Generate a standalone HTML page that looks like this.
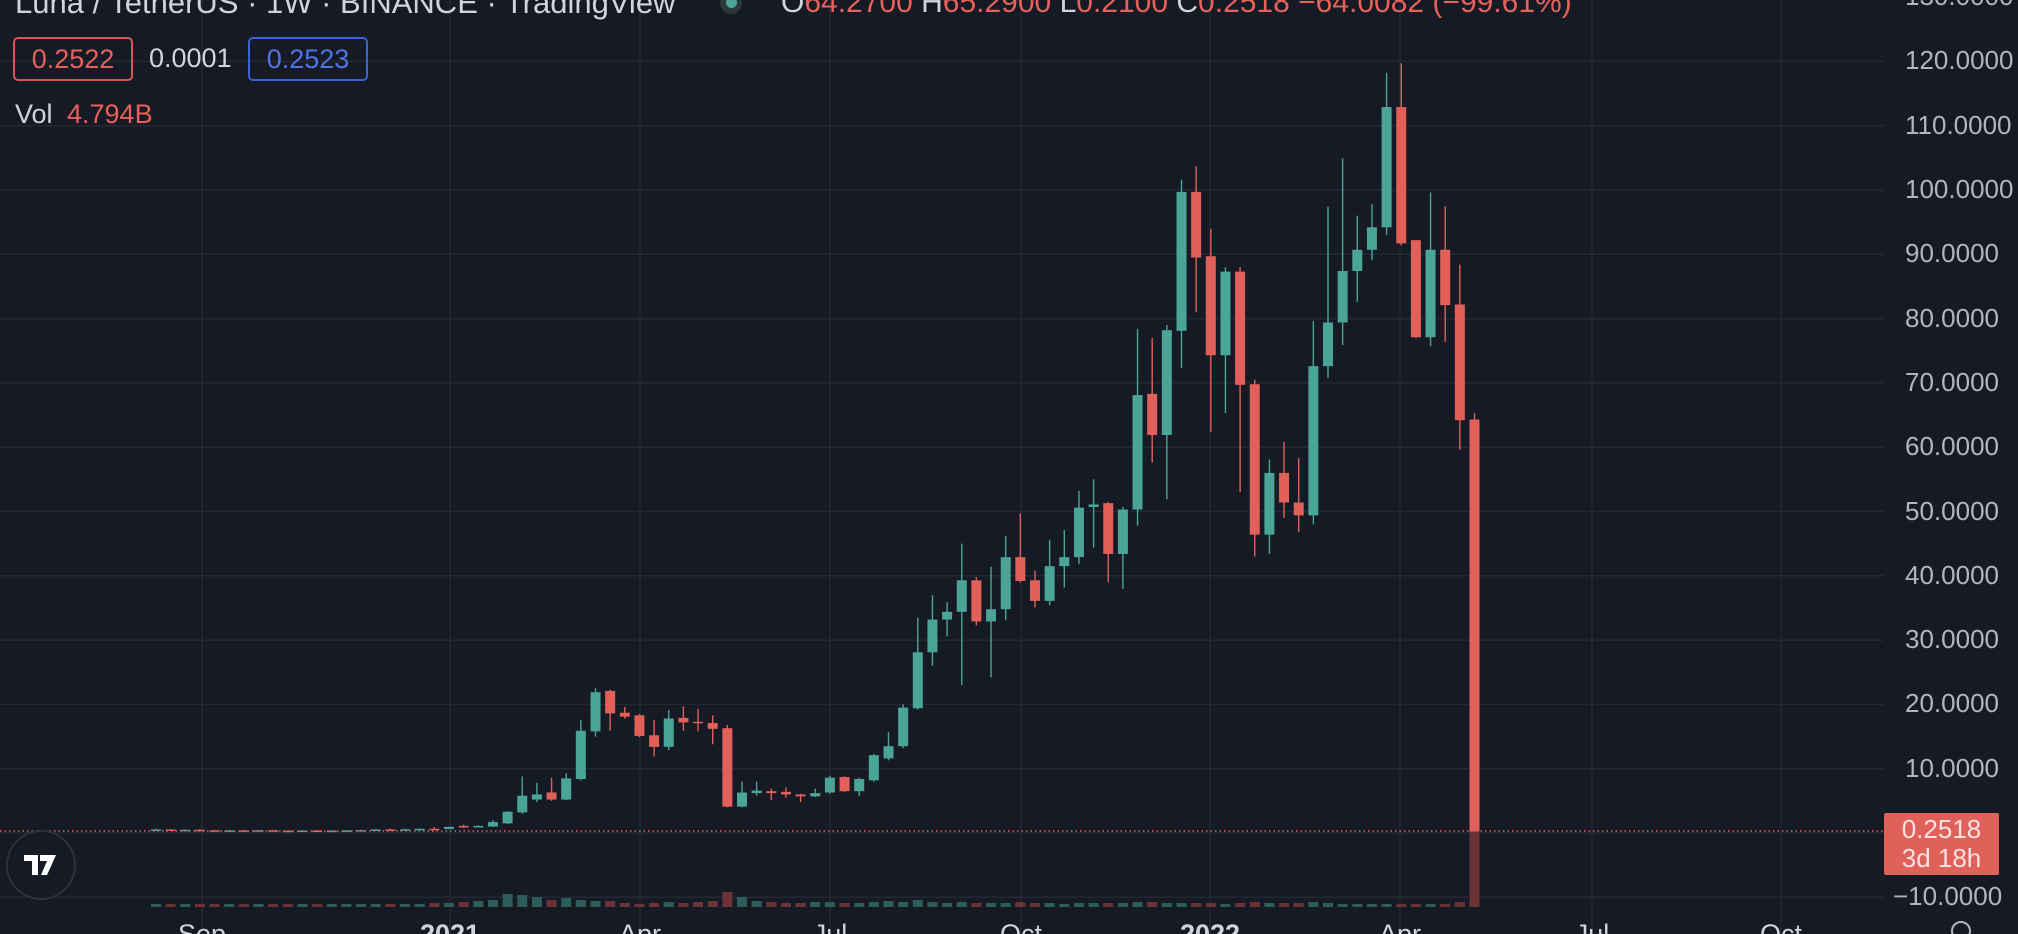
<!DOCTYPE html>
<html><head><meta charset="utf-8"><style>
html,body{margin:0;padding:0;background:#161a25;overflow:hidden}
#w{position:relative;width:2018px;height:934px;background:#161a25;font-family:"Liberation Sans",sans-serif}
svg{position:absolute;left:0;top:0}
.t{position:absolute;white-space:nowrap}
.b{position:absolute;top:919px;font-size:27px;color:#d1d4dc;transform:translateX(-50%);white-space:nowrap}
</style></head><body><div id="w">
<svg id="s" width="2018" height="934" xmlns="http://www.w3.org/2000/svg"></svg>
<div class="t" style="left:15px;top:-15px;font-size:31px;color:#d1d4dc">Luna / TetherUS · 1W · BINANCE · TradingView</div>
<div class="t" style="left:720px;top:-8px;width:22px;height:22px;border-radius:50%;background:#2a3a3a"></div>
<div class="t" style="left:726px;top:-3px;width:11px;height:11px;border-radius:50%;background:#4aa596"></div>
<div class="t" style="left:781px;top:-14px;font-size:30px;color:#d1d4dc">O<span style="color:#e5615a">64.2700</span> H<span style="color:#e5615a">65.2900</span> L<span style="color:#e5615a">0.2100</span> C<span style="color:#e5615a">0.2518 −64.0082 (−99.61%)</span></div>
<div class="t" style="left:13px;top:37px;width:120px;height:44px;border:2px solid #d8555a;border-radius:5px;box-sizing:border-box;color:#e5615a;font-size:27px;line-height:40px;text-align:center">0.2522</div>
<div class="t" style="left:149px;top:43px;font-size:27px;color:#d1d4dc">0.0001</div>
<div class="t" style="left:248px;top:37px;width:120px;height:44px;border:2px solid #3d62d6;border-radius:5px;box-sizing:border-box;color:#4e74e6;font-size:27px;line-height:40px;text-align:center">0.2523</div>
<div class="t" style="left:15px;top:99px;font-size:27px;color:#d1d4dc">Vol</div>
<div class="t" style="left:67px;top:99px;font-size:27px;color:#e5615a">4.794B</div>
<div id="pl"></div>
<div class="t" style="left:1884px;top:813px;width:115px;height:62px;background:#e0605a;border-radius:2px;color:#fbe3e2;font-size:26px;text-align:center;line-height:29px;padding-top:2px;box-sizing:border-box">0.2518<br>3d 18h</div>
<div class="b" style="left:202px">Sep</div>
<div class="b" style="left:450px;font-weight:bold">2021</div>
<div class="b" style="left:640px">Apr</div>
<div class="b" style="left:830px">Jul</div>
<div class="b" style="left:1021px">Oct</div>
<div class="b" style="left:1210px;font-weight:bold">2022</div>
<div class="b" style="left:1400px">Apr</div>
<div class="b" style="left:1592px">Jul</div>
<div class="b" style="left:1781px">Oct</div>
</div>
<script>
var s=document.getElementById('s'),h='';
function Y(p){return 833-p*6.43;}
[202,450,640,830,1021,1210,1400,1592,1781].forEach(function(x){h+='<line x1="'+x+'" y1="0" x2="'+x+'" y2="934" stroke="#242834" stroke-width="1.5"/>';});
for(var p=-10;p<=130;p+=10){var y=Y(p);h+='<line x1="0" y1="'+y+'" x2="1884" y2="'+y+'" stroke="#242834" stroke-width="1.5"/>';}
var pl='';
for(var p=-10;p<=130;p+=10){if(p==0)continue;var y=Y(p);pl+='<div class="t" style="left:'+(p<0?1893:1905)+'px;top:'+(y-16)+'px;font-size:26px;color:#b2b5be">'+(p<0?'−10.0000':p.toFixed(4))+'</div>';}
document.getElementById('pl').innerHTML=pl;
var d=[[0.35,0.65,0.3,0.55],[0.55,0.6,0.4,0.45],[0.45,0.55,0.38,0.5],[0.5,0.62,0.38,0.42],[0.42,0.5,0.3,0.35],[0.35,0.45,0.3,0.4],[0.4,0.48,0.32,0.38],[0.38,0.45,0.3,0.42],[0.42,0.5,0.35,0.36],[0.36,0.42,0.28,0.32],[0.32,0.4,0.28,0.38],[0.38,0.45,0.3,0.33],[0.33,0.4,0.26,0.36],[0.36,0.42,0.3,0.4],[0.4,0.5,0.35,0.45],[0.45,0.6,0.42,0.55],[0.55,0.65,0.45,0.5],[0.5,0.62,0.45,0.58],[0.58,0.7,0.5,0.65],[0.65,0.9,0.6,0.62],
[0.62,1.0,0.6,0.95],[1.1,1.3,0.8,0.9],[0.95,1.2,0.9,1.1],[1.0,2.0,0.95,1.7],[1.5,3.4,1.4,3.3],[3.2,8.8,3,5.8],[5.2,7.8,4.8,6.0],[6.3,8.6,5,5.2],[5.2,9.3,5.1,8.5],[8.4,17.6,8.2,15.9],
[15.8,22.5,15,21.9],[22.1,22.3,15.9,18.6],[18.7,19.6,17.8,18.1],[18.3,18.5,14.9,15.1],[15.2,17.6,11.9,13.4],[13.4,19.1,12.9,17.8],[17.9,19.7,15.9,17.2],[17.3,19.3,15.8,17.1],[17.1,18.3,13.8,16.2],[16.3,16.8,4.0,4.1],
[4.1,8.0,4.0,6.3],[6.2,8.0,5.8,6.6],[6.5,6.9,5.1,6.2],[6.4,7.1,5.5,6.0],[6.0,6.1,4.8,5.7],[5.7,6.9,5.6,6.2],[6.3,8.9,6.1,8.6],[8.7,8.8,6.4,6.5],[6.5,8.6,5.8,8.4],[8.2,12.3,8.0,12.1],
[11.6,15.7,11.3,13.5],[13.5,20,13.2,19.5],[19.4,33.5,19.2,28.1],[28.1,37,26,33.2],[33.2,35.9,30.6,34.4],[34.4,45,23,39.3],[39.3,39.8,32.3,32.9],[32.9,41.4,24.2,34.8],[34.8,46.2,33.1,42.9],[42.9,49.7,39,39.2],
[39.3,40.8,35.1,36.1],[36.1,45.6,35.4,41.5],[41.5,47.1,38.2,42.9],[42.9,53.2,41.8,50.6],[50.7,55,44.4,51.1],[51.3,51.5,39,43.4],[43.4,50.7,38,50.3],[50.3,78.4,47.8,68.1],[68.3,77,57.6,61.9],[61.9,79,51.9,78.2],
[78.1,101.6,72.3,99.7],[99.7,103.7,81,89.5],[89.7,94,62.4,74.3],[74.3,88,65.3,87.3],[87.3,88,53,69.7],[69.8,70.5,43,46.4],[46.4,58.1,43.4,56],[56,60.8,49,51.4],[51.4,58.3,46.8,49.4],[49.4,79.6,48,72.6],
[72.6,97.4,70.8,79.4],[79.4,104.9,75.9,87.4],[87.4,96,82.6,90.7],[90.7,97.8,89.1,94.2],[94.2,118.2,93,112.9],[112.9,119.7,91.4,91.7],[92.2,92.2,77,77.1],[77.1,99.6,75.7,90.7],[90.7,97.5,76.4,82.1],[82.2,88.4,59.6,64.2],[64.3,65.3,0.21,0.25]];
var v=[3,3,3,3,3,3,3,3,3,3,3,3,3,3,3,3,3,3,3,4,4,5,6,7,13,12,10,7,9,7,6,6,4,3,4,5,4,5,6,15,10,6,5,4,4,5,5,4,4,5,6,5,7,5,4,5,4,4,4,5,4,4,3,4,4,4,4,5,5,4,4,4,4,3,4,5,4,4,4,5,4,3,3,3,3,3,3,3,3,5,130];
var G='#4aa596',R='#e2605a';
for(var i=0;i<d.length;i++){var x=156+i*14.65,c=d[i],up=c[3]>=c[0];
 h+='<rect x="'+(x-5)+'" y="'+(907-v[i])+'" width="10" height="'+v[i]+'" fill="'+(up?'#2c5d5a':'#6a3437')+'"/>';}
for(var i=0;i<d.length;i++){var x=156+i*14.65,c=d[i],up=c[3]>=c[0],col=up?G:R;
 var t=Y(Math.max(c[0],c[3])),b=Y(Math.min(c[0],c[3]));if(b-t<1.5)b=t+1.5;
 h+='<rect x="'+(x-0.7)+'" y="'+Y(c[1])+'" width="1.4" height="'+(Y(c[2])-Y(c[1]))+'" fill="'+col+'"/>';
 h+='<rect x="'+(x-5)+'" y="'+t+'" width="10" height="'+(b-t)+'" fill="'+col+'"/>';}
h+='<line x1="0" y1="831" x2="1884" y2="831" stroke="#e2605a" stroke-width="1.5" stroke-dasharray="1.5 3"/>';
h+='<circle cx="41" cy="865" r="34" fill="#161a25" stroke="#2e323d" stroke-width="2"/>';
h+='<path d="M24 855 h14 v20 h-6 v-14 h-8z M40 855 h16 l-9 20 h-6 l6-14 h-7z" fill="#fff"/>';
h+='<circle cx="44" cy="858" r="3" fill="#fff"/>';
h+='<circle cx="1961" cy="931" r="9" fill="none" stroke="#b2b5be" stroke-width="2"/>';
s.innerHTML=h;
</script>
</body></html>
